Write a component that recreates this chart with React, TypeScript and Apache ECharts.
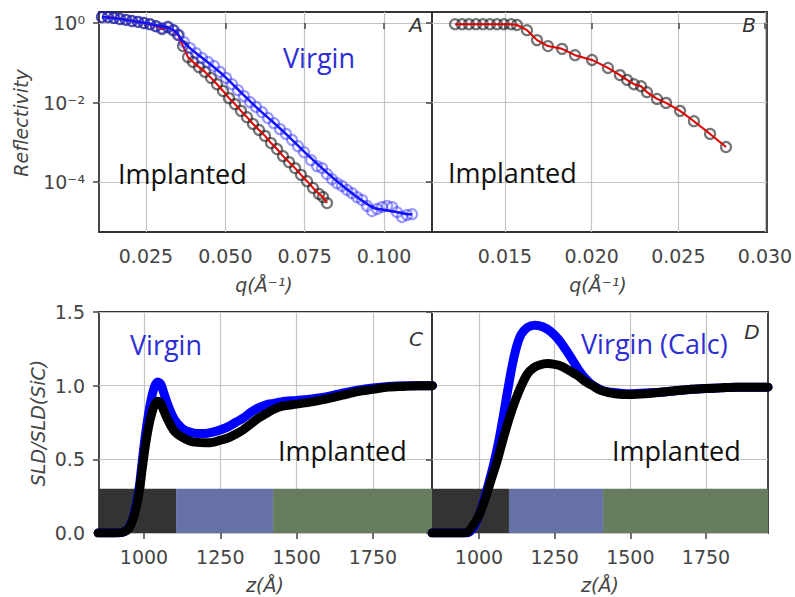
import React, { useEffect, useRef } from 'react';
import * as echarts from 'echarts';

// ---------- Panel A : reflectivity (log10 R) ----------
const implantedQ = [0.01114, 0.01303, 0.01492, 0.01681, 0.0187, 0.02059, 0.02248, 0.02437, 0.02626, 0.02815, 0.03004, 0.03193, 0.03351, 0.03508, 0.03666, 0.03823, 0.03981, 0.0417, 0.04359, 0.04548, 0.04737, 0.04926, 0.05115, 0.05304, 0.05493, 0.05682, 0.05871, 0.0606, 0.06249, 0.06438, 0.06628, 0.06817, 0.07006, 0.07195, 0.07384, 0.07573, 0.07762, 0.07951, 0.08077, 0.08203];
const implantedLog10R = [0.15, 0.15, 0.13, 0.1, 0.08, 0.05, 0.03, 0.0, -0.03, -0.08, -0.15, -0.1, -0.18, -0.3, -0.58, -0.86, -0.98, -1.11, -1.23, -1.38, -1.54, -1.71, -1.89, -2.04, -2.21, -2.37, -2.54, -2.69, -2.84, -3.02, -3.17, -3.35, -3.5, -3.65, -3.82, -3.98, -4.15, -4.3, -4.38, -4.53];

const virginQ = [0.01114, 0.01303, 0.01492, 0.01681, 0.0187, 0.02059, 0.02248, 0.02437, 0.02626, 0.02815, 0.03004, 0.03193, 0.03382, 0.0354, 0.03697, 0.03886, 0.04076, 0.04265, 0.04454, 0.04643, 0.04832, 0.05021, 0.0521, 0.05399, 0.05588, 0.05777, 0.05966, 0.06155, 0.06344, 0.06533, 0.06722, 0.06911, 0.071, 0.07289, 0.07478, 0.07699, 0.07888, 0.08046, 0.08203, 0.08361, 0.08518, 0.08676, 0.08834, 0.08991, 0.09149, 0.09306, 0.09464, 0.09621, 0.09779, 0.09936, 0.10094, 0.10251, 0.10409, 0.10566, 0.10724, 0.10882];
const virginLog10R = [0.15, 0.15, 0.13, 0.1, 0.08, 0.05, 0.03, 0.0, -0.03, -0.08, -0.13, -0.1, -0.18, -0.3, -0.48, -0.63, -0.76, -0.88, -0.98, -1.08, -1.23, -1.38, -1.54, -1.69, -1.84, -1.99, -2.11, -2.24, -2.39, -2.52, -2.67, -2.79, -2.94, -3.1, -3.25, -3.45, -3.6, -3.65, -3.8, -3.93, -4.03, -4.1, -4.2, -4.28, -4.38, -4.45, -4.6, -4.73, -4.68, -4.63, -4.6, -4.63, -4.76, -4.88, -4.83, -4.81];

const virginFitQ = [0.0111, 0.015, 0.02, 0.025, 0.029, 0.032, 0.0335, 0.035, 0.0365, 0.038, 0.04, 0.045, 0.05, 0.055, 0.06, 0.065, 0.07, 0.075, 0.08, 0.085, 0.09, 0.094, 0.097, 0.1, 0.103, 0.106, 0.1088];
const virginFitLog10R = [0.15, 0.12, 0.06, 0.0, -0.07, -0.12, -0.17, -0.27, -0.45, -0.57, -0.71, -1.02, -1.36, -1.75, -2.14, -2.49, -2.86, -3.25, -3.62, -3.97, -4.29, -4.52, -4.66, -4.7, -4.74, -4.79, -4.82];

// ---------- Panel B ----------
const bQ = [0.01212, 0.01252, 0.01292, 0.01333, 0.01373, 0.01413, 0.01454, 0.01494, 0.01535, 0.01569, 0.01627, 0.01685, 0.01748, 0.01829, 0.01904, 0.02002, 0.02094, 0.02163, 0.02204, 0.02244, 0.02285, 0.02319, 0.02377, 0.02429, 0.0251, 0.0259, 0.02683, 0.02775];
const bLog10R = [-0.03, -0.03, -0.03, -0.03, -0.03, -0.03, -0.03, -0.03, -0.03, -0.05, -0.18, -0.43, -0.58, -0.65, -0.81, -0.93, -1.13, -1.31, -1.43, -1.54, -1.59, -1.74, -1.91, -2.01, -2.21, -2.47, -2.79, -3.12];

// ---------- Panel C : SLD profiles ----------
const cZ = [850, 900, 930, 950, 965, 975, 985, 995, 1005, 1015, 1025, 1035, 1045, 1055, 1065, 1080, 1100, 1125, 1150, 1175, 1200, 1225, 1250, 1275, 1300, 1325, 1350, 1375, 1400, 1425, 1450, 1500, 1550, 1600, 1650, 1700, 1750, 1800, 1850, 1900, 1945];
const cBlackSld = [0, 0, 0.005, 0.03, 0.1, 0.18, 0.29, 0.45, 0.6, 0.72, 0.81, 0.87, 0.895, 0.88, 0.83, 0.76, 0.69, 0.65, 0.625, 0.615, 0.612, 0.615, 0.63, 0.645, 0.67, 0.7, 0.74, 0.78, 0.81, 0.84, 0.86, 0.875, 0.89, 0.91, 0.935, 0.96, 0.975, 0.99, 0.995, 1.0, 1.0];
const cBlueSld = [0, 0, 0.005, 0.035, 0.11, 0.2, 0.32, 0.5, 0.67, 0.81, 0.92, 0.995, 1.025, 1.01, 0.95, 0.86, 0.77, 0.71, 0.685, 0.675, 0.675, 0.685, 0.7, 0.72, 0.75, 0.78, 0.82, 0.85, 0.87, 0.88, 0.89, 0.9, 0.91, 0.925, 0.95, 0.97, 0.985, 0.995, 1.0, 1.0, 1.0];
const cBandEdges = [852.6, 1105, 1423, 1943.6];

// ---------- Panel D ----------
const dBlackZ = [845, 950, 965, 980, 1000, 1020, 1040, 1060, 1080, 1100, 1120, 1140, 1160, 1180, 1200, 1225, 1250, 1275, 1300, 1325, 1350, 1375, 1400, 1425, 1450, 1475, 1500, 1550, 1600, 1650, 1700, 1750, 1800, 1850, 1900, 1955];
const dBlackSld = [0, 0, 0.01, 0.05, 0.12, 0.23, 0.36, 0.49, 0.64, 0.78, 0.9, 1.0, 1.08, 1.12, 1.14, 1.15, 1.145, 1.13, 1.1, 1.07, 1.03, 1.0, 0.97, 0.955, 0.945, 0.94, 0.94, 0.945, 0.955, 0.965, 0.975, 0.98, 0.985, 0.99, 0.99, 0.99];
const dBlueZ = [845, 960, 975, 990, 1005, 1020, 1035, 1050, 1065, 1080, 1095, 1110, 1125, 1140, 1160, 1185, 1210, 1235, 1260, 1285, 1310, 1335, 1360, 1385, 1410, 1435, 1460, 1500, 1550, 1600, 1650, 1700, 1750, 1800, 1850, 1900, 1955];
const dBlueSld = [0, 0, 0.02, 0.07, 0.15, 0.25, 0.36, 0.48, 0.62, 0.79, 0.97, 1.14, 1.27, 1.35, 1.395, 1.41, 1.4, 1.37, 1.32, 1.25, 1.17, 1.09, 1.03, 0.99, 0.965, 0.955, 0.95, 0.945, 0.95, 0.955, 0.965, 0.975, 0.98, 0.985, 0.99, 0.99, 0.99];
const dBandEdges = [844.7, 1099, 1410, 1954.9];

const bandColors = ['#333333', '#6672a6', '#657d5e'];
const bandTop = 0.3;

// ---------- ticks ----------
const qTicksA = [0.025, 0.05, 0.075, 0.1];
const qTicksB = [0.015, 0.02, 0.025, 0.03];
const logRTicks = [-4, -2, 0];
const zTicks = [1000, 1250, 1500, 1750];
const sldTicks = [0, 0.5, 1, 1.5];

const zip = (a: number[], b: number[]) => a.map((v, i) => [v, b[i]]);

const SUP: Record<string, string> = { '0': '\u2070', '1': '\u00b9', '2': '\u00b2', '3': '\u00b3', '4': '\u2074', '5': '\u2075', '6': '\u2076', '7': '\u2077', '8': '\u2078', '9': '\u2079', '-': '\u207b' };
const pow10 = (v: number) => '10' + String(Math.round(v) || 0).split('').map((c) => SUP[c]).join('');

const TXT = '#454545';
const GRIDC = '#c4c4c4';
const SPINE = '#333333';
const BLUE_TXT = '#2d2dd4';

const tickStyle = { show: true, inside: false, length: 6, lineStyle: { color: '#444', width: 1.5 } };
const split = { show: true, lineStyle: { color: GRIDC, width: 1.2 } };

function xAxisDef(grid: number, min: number, max: number, ticks: number[], fmt: (v: number) => string) {
  return {
    type: 'value', gridIndex: grid, min, max,
    axisLine: { show: false },
    axisTick: { ...tickStyle, customValues: ticks },
    axisLabel: {
      show: true, color: TXT, fontFamily: 'DejaVu Sans', fontSize: 19,
      margin: 14, customValues: ticks, formatter: fmt,
    },
    splitLine: split,
  };
}
function yAxisDef(grid: number, min: number, max: number, ticks: number[], fmt: (v: number) => string, showLabels: boolean) {
  return {
    type: 'value', gridIndex: grid, min, max,
    axisLine: { show: false },
    axisTick: { ...tickStyle, customValues: ticks },
    axisLabel: {
      show: showLabels, color: TXT, fontFamily: 'DejaVu Sans', fontSize: 19,
      margin: 14, customValues: ticks, formatter: fmt,
    },
    splitLine: split,
  };
}

const LOG_MIN = -5.258;
const LOG_MAX = 0.277;

const gridBase = { show: true, borderColor: SPINE, borderWidth: 1.8, backgroundColor: 'transparent', containLabel: false, outerBoundsMode: 'none' };

function bandArea(edges: number[]) {
  return {
    silent: true,
    label: { show: false },
    data: bandColors.map((c, i) => [
      { xAxis: edges[i], yAxis: 0, itemStyle: { color: c, opacity: 1 } },
      { xAxis: edges[i + 1], yAxis: bandTop },
    ]),
  };
}

function txt(x: number, y: number, text: string, opts: any = {}) {
  const { fill = '#111', size = 27, family = 'Open Sans', italic = false, align = 'left', rotation = 0 } = opts;
  return {
    type: 'text', x, y, rotation, z: 100,
    style: {
      text, fill,
      fontSize: size, fontFamily: family, fontStyle: italic ? 'italic' : 'normal',
      align, verticalAlign: 'middle', textAlign: align, textVerticalAlign: 'middle',
    },
  };
}

const option: any = {
  animation: false,
  backgroundColor: '#ffffff',
  grid: [
    { ...gridBase, left: 99, top: 12, width: 333, height: 220 },
    { ...gridBase, left: 432, top: 12, width: 335, height: 220 },
    { ...gridBase, left: 99, top: 312, width: 333, height: 221 },
    { ...gridBase, left: 432, top: 312, width: 336, height: 221 },
  ],
  xAxis: [
    xAxisDef(0, 0.0102, 0.1151, qTicksA, (v) => v.toFixed(3)),
    xAxisDef(1, 0.01079, 0.030115, qTicksB, (v) => v.toFixed(3)),
    xAxisDef(2, 852.6, 1943.6, zTicks, (v) => String(Math.round(v))),
    xAxisDef(3, 844.7, 1954.9, zTicks, (v) => String(Math.round(v))),
  ],
  yAxis: [
    yAxisDef(0, LOG_MIN, LOG_MAX, logRTicks, pow10, true),
    yAxisDef(1, LOG_MIN, LOG_MAX, logRTicks, pow10, false),
    yAxisDef(2, 0, 1.5, sldTicks, (v) => v.toFixed(1), true),
    yAxisDef(3, 0, 1.5, sldTicks, (v) => v.toFixed(1), false),
  ],
  series: [
    // Panel A
    {
      type: 'scatter', xAxisIndex: 0, yAxisIndex: 0, data: zip(implantedQ, implantedLog10R),
      symbol: 'circle', symbolSize: 10, z: 2,
      itemStyle: { color: 'rgba(255,255,255,0)', borderColor: 'rgba(25,25,25,0.75)', borderWidth: 2.2 },
    },
    {
      type: 'line', xAxisIndex: 0, yAxisIndex: 0, data: zip(implantedQ, implantedLog10R),
      showSymbol: false, z: 3, lineStyle: { color: '#e00000', width: 2 },
    },
    {
      type: 'scatter', xAxisIndex: 0, yAxisIndex: 0, data: zip(virginQ, virginLog10R),
      symbol: 'circle', symbolSize: 10, z: 4,
      itemStyle: { color: 'rgba(255,255,255,0)', borderColor: 'rgba(30,30,255,0.55)', borderWidth: 2.2 },
    },
    {
      type: 'line', xAxisIndex: 0, yAxisIndex: 0, data: zip(virginFitQ, virginFitLog10R),
      showSymbol: false, z: 5, smooth: 0.2, lineStyle: { color: '#1212ff', width: 2.5 },
    },
    // Panel B
    {
      type: 'scatter', xAxisIndex: 1, yAxisIndex: 1, data: zip(bQ, bLog10R),
      symbol: 'circle', symbolSize: 10, z: 2,
      itemStyle: { color: 'rgba(255,255,255,0)', borderColor: 'rgba(25,25,25,0.75)', borderWidth: 2.2 },
    },
    {
      type: 'line', xAxisIndex: 1, yAxisIndex: 1, data: zip(bQ, bLog10R),
      showSymbol: false, z: 3, lineStyle: { color: '#e00000', width: 2 },
    },
    // Panel C
    {
      type: 'line', xAxisIndex: 2, yAxisIndex: 2, data: zip(cZ, cBlueSld),
      showSymbol: false, smooth: 0.3, z: 2, lineStyle: { color: '#0000ff', width: 9, cap: 'round', join: 'round' },
      markArea: bandArea(cBandEdges),
    },
    {
      type: 'line', xAxisIndex: 2, yAxisIndex: 2, data: zip(cZ, cBlackSld),
      showSymbol: false, smooth: 0.3, z: 3, lineStyle: { color: '#000000', width: 9, cap: 'round', join: 'round' },
    },
    // Panel D
    {
      type: 'line', xAxisIndex: 3, yAxisIndex: 3, data: zip(dBlueZ, dBlueSld),
      showSymbol: false, smooth: 0.3, z: 2, lineStyle: { color: '#0000ff', width: 9, cap: 'round', join: 'round' },
      markArea: bandArea(dBandEdges),
    },
    {
      type: 'line', xAxisIndex: 3, yAxisIndex: 3, data: zip(dBlackZ, dBlackSld),
      showSymbol: false, smooth: 0.3, z: 3, lineStyle: { color: '#000000', width: 9, cap: 'round', join: 'round' },
    },
  ],
  graphic: [
    // axis titles
    txt(21, 123, 'Reflectivity', { fill: TXT, size: 19, family: 'DejaVu Sans', italic: true, align: 'center', rotation: Math.PI / 2 }),
    txt(38, 423, 'SLD/SLD(SiC)', { fill: TXT, size: 19, family: 'DejaVu Sans', italic: true, align: 'center', rotation: Math.PI / 2 }),
    txt(264, 285, 'q(\u00c5\u207b\u00b9)', { fill: TXT, size: 19, family: 'DejaVu Sans', italic: true, align: 'center' }),
    txt(598, 285, 'q(\u00c5\u207b\u00b9)', { fill: TXT, size: 19, family: 'DejaVu Sans', italic: true, align: 'center' }),
    txt(265, 585, 'z(\u00c5)', { fill: TXT, size: 19, family: 'DejaVu Sans', italic: true, align: 'center' }),
    txt(600, 585, 'z(\u00c5)', { fill: TXT, size: 19, family: 'DejaVu Sans', italic: true, align: 'center' }),
    // panel letters
    txt(416, 25, 'A', { fill: '#333', size: 20, family: 'DejaVu Sans', italic: true, align: 'center' }),
    txt(749, 25, 'B', { fill: '#333', size: 20, family: 'DejaVu Sans', italic: true, align: 'center' }),
    txt(416, 339, 'C', { fill: '#333', size: 20, family: 'DejaVu Sans', italic: true, align: 'center' }),
    txt(752, 332, 'D', { fill: '#333', size: 20, family: 'DejaVu Sans', italic: true, align: 'center' }),
    // annotations
    txt(283, 57, 'Virgin', { fill: BLUE_TXT }),
    txt(118, 173, 'Implanted', { fill: '#111' }),
    txt(448, 172, 'Implanted', { fill: '#111' }),
    txt(130, 344, 'Virgin', { fill: BLUE_TXT }),
    txt(278, 450, 'Implanted', { fill: '#111' }),
    txt(581, 343, 'Virgin (Calc)', { fill: BLUE_TXT }),
    txt(612, 450, 'Implanted', { fill: '#111' }),
  ],
};

export default function App() {
  const ref = useRef<HTMLDivElement>(null);
  useEffect(() => {
    const chart = echarts.init(ref.current as HTMLDivElement, null, { renderer: 'svg' });
    chart.setOption(option);
    return () => chart.dispose();
  }, []);
  return (
    <div
      ref={ref}
      style={{ position: 'fixed', left: 0, top: 0, width: 795, height: 597, background: '#fff' }}
    />
  );
}
